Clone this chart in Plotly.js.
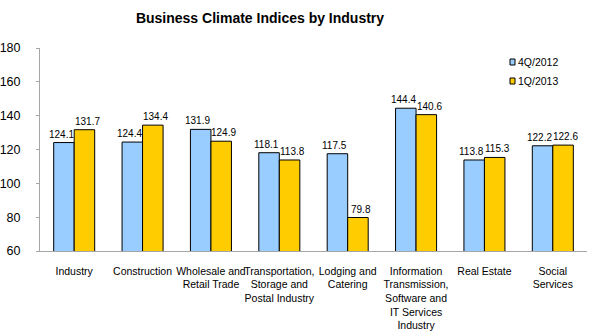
<!DOCTYPE html>
<html><head><meta charset="utf-8">
<script src="https://cdn.plot.ly/plotly-3.0.1.min.js"></script>
<style>body{margin:0;padding:0;background:#fff}#chart{width:600px;height:336px}</style>
</head><body><div id="chart"></div>
<script>
var categories = ["Industry","Construction","Wholesale and<br>Retail Trade","Transportation,<br>Storage and<br>Postal Industry","Lodging and<br>Catering","Information<br>Transmission,<br>Software and<br>IT Services<br>Industry","Real Estate","Social<br>Services"];
var q4_2012 = [124.1,124.4,131.9,118.1,117.5,144.4,113.8,122.2];
var q1_2013 = [131.7,134.4,124.9,113.8,79.8,140.6,115.3,122.6];
var seriesNames = ["4Q/2012","1Q/2013"];
var seriesColors = ["#99CCFF","#FFCC00"];
var tickVals = [60,80,100,120,140,160,180];

function mk(name, vals, color){
  return {type:"bar", name:name, x:categories, y:vals,
    marker:{color:color, line:{color:"#000", width:1}},
    cliponaxis:false, hoverinfo:"none", showlegend:false};
}
var data = [mk(seriesNames[0], q4_2012, seriesColors[0]), mk(seriesNames[1], q1_2013, seriesColors[1])];

var shapes = [], annotations = [];
// value labels above each bar, nudged apart so neighbouring labels don't collide
var seriesVals = [q4_2012, q1_2013];
var barShift = [-13, 13];
for (var s = 0; s < seriesVals.length; s++) {
  for (var k = 0; k < categories.length; k++) {
    annotations.push({xref:"x", yref:"y", x:k, y:seriesVals[s][k], xshift:barShift[s], yshift:1,
      xanchor:"center", yanchor:"bottom", showarrow:false, text:seriesVals[s][k].toFixed(1),
      font:{family:"Liberation Sans, Arial", size:10, color:"#000"}});
  }
}
// custom legend (squares + labels) in paper coordinates
var legX = 510, legY = [62, 81];
for (var i = 0; i < seriesNames.length; i++) {
  shapes.push({type:"rect", xref:"paper", yref:"paper",
    x0:(legX-40)/547, x1:(legX+5-40)/547,
    y0:(251-legY[i]-3)/203, y1:(251-legY[i]+3)/203,
    fillcolor:seriesColors[i], line:{color:"#000", width:1}});
  annotations.push({xref:"paper", yref:"paper", x:(legX+6-40)/547, y:(251-legY[i])/203,
    xanchor:"left", yanchor:"middle", text:seriesNames[i], showarrow:false,
    font:{family:"Liberation Sans, Arial", size:10.5, color:"#000"}});
}

var layout = {
  width:600, height:336, paper_bgcolor:"#fff", plot_bgcolor:"#fff",
  margin:{l:40, r:13, t:48, b:85},
  title:{text:"<b>Business Climate Indices by Industry</b>", x:260/600, xanchor:"center", xref:"container",
    y:1-18/336, yanchor:"middle", yref:"container",
    font:{family:"Liberation Sans, Arial", size:14, color:"#000"}},
  font:{family:"Liberation Sans, Arial", color:"#000"},
  barmode:"group", bargap:0.4, bargroupgap:0,
  xaxis:{showline:true, linecolor:"#A6A6A6", linewidth:1, ticks:"", showgrid:false,
    tickfont:{size:10.5}, tickangle:0, automargin:false, ticklabelstandoff:10},
  yaxis:{range:[60,180], tickvals:tickVals, showline:true, linecolor:"#A6A6A6", linewidth:1,
    ticks:"outside", ticklen:3, tickcolor:"#A6A6A6", showgrid:false, zeroline:false,
    tickfont:{size:12.5}, ticklabelstandoff:13, automargin:false},
  showlegend:false,
  shapes:shapes, annotations:annotations
};
Plotly.newPlot("chart", data, layout, {displayModeBar:false, staticPlot:true});
</script></body></html>
